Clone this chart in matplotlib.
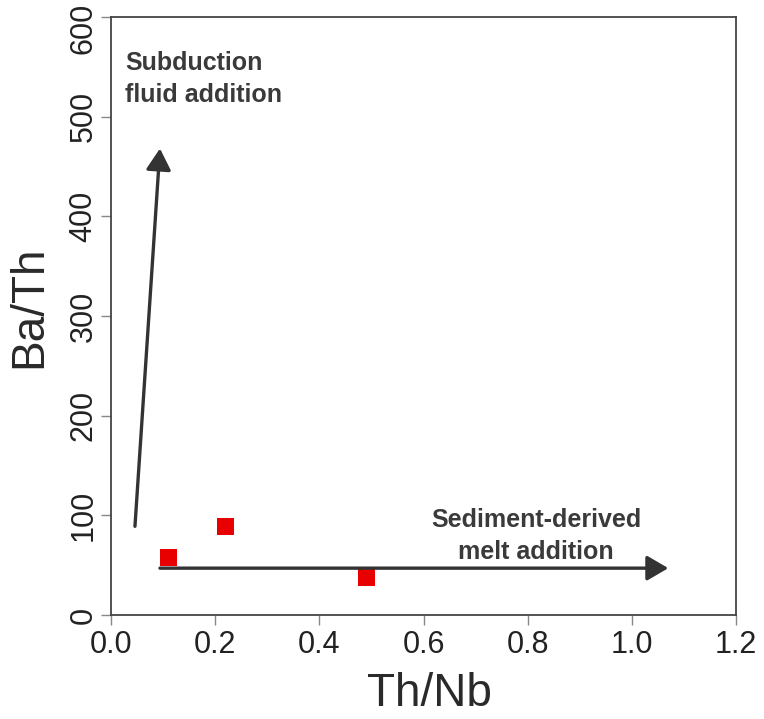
import matplotlib
matplotlib.use("Agg")
import matplotlib.pyplot as plt
from matplotlib.transforms import ScaledTranslation

plt.rcParams['font.family'] = ['Liberation Sans', 'DejaVu Sans']

# Data
th_nb = [0.11, 0.22, 0.49]
ba_th = [58, 89, 38]

x_ticks = [0.0, 0.2, 0.4, 0.6, 0.8, 1.0, 1.2]
x_tick_labels = ['0.0', '0.2', '0.4', '0.6', '0.8', '1.0', '1.2']
y_ticks = [0, 100, 200, 300, 400, 500, 600]
y_tick_labels = ['0', '100', '200', '300', '400', '500', '600']

# Annotation arrows (base -> tip) in data coordinates
fluid_arrow = [(0.046, 89), (0.094, 468)]
melt_arrow = [(0.094, 47), (1.07, 47)]
fluid_text = "Subduction\nfluid addition"
melt_text = "Sediment-derived\nmelt addition"

fig = plt.figure(figsize=(7.64, 7.19), dpi=100)
ax = fig.add_axes([111/764, 1-615/719, (736-111)/764, (615-17)/719])

ax.scatter(th_nb, ba_th, marker='s', s=12.5**2, color='#e80000', edgecolors='none', zorder=3)

arrow_color = '#333333'
for base, tip in (fluid_arrow, melt_arrow):
    ax.annotate('', xy=tip, xytext=base,
                arrowprops=dict(arrowstyle='-|>,head_length=0.65,head_width=0.38',
                                lw=2.4, color=arrow_color, mutation_scale=20,
                                shrinkA=0, shrinkB=0))

ax.text(0.027, 566, fluid_text, ha='left', va='top', fontsize=18, fontweight='bold',
        color='#3a3a3a', linespacing=1.45)
ax.text(0.816, 107, melt_text, ha='center', va='top', fontsize=18, fontweight='bold',
        color='#3a3a3a', linespacing=1.4, multialignment='center')

ax.set_xlim(0, 1.2)
ax.set_ylim(0, 600)
ax.set_xticks(x_ticks)
ax.set_xticklabels(x_tick_labels)
ax.set_yticks(y_ticks)
ax.set_yticklabels(y_tick_labels, rotation=90, va='center')

ax.tick_params(axis='both', direction='out', length=7, width=1, color='#888888',
               labelsize=22, labelcolor='#222222')
ax.tick_params(axis='x', pad=4)
ax.tick_params(axis='y', pad=2)

# keep the top y label inside the figure, as in the reference
top_lbl = ax.get_yticklabels()[-1]
top_lbl.set_transform(top_lbl.get_transform() + ScaledTranslation(0, -8/72, fig.dpi_scale_trans))

for sp in ax.spines.values():
    sp.set_color('#444444')
    sp.set_linewidth(1.3)

ax.set_xlabel('Th/Nb', fontsize=33, color='#2a2a2a')
ax.xaxis.set_label_coords(0.51, -0.095)
ax.set_ylabel('Ba/Th', fontsize=33, color='#2a2a2a')
ax.yaxis.set_label_coords(-0.095, 0.515)

fig.savefig('out.png', dpi=100)
